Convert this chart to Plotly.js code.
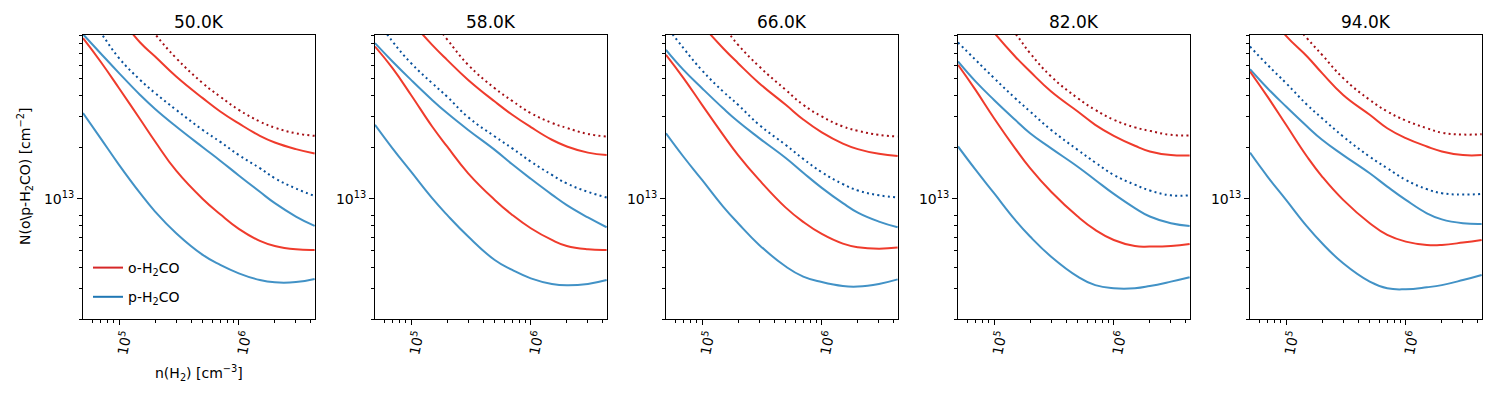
<!DOCTYPE html>
<html>
<head>
<meta charset="utf-8">
<script src="https://cdn.plot.ly/plotly-3.0.1.min.js"></script>
<style>html,body{margin:0;padding:0;background:#fff;} #chart{width:1500px;height:400px;}</style>
</head>
<body>
<div id="chart"></div>
<script>
// density grid n(H2) [cm^-3]
const nH2 = [5e4, 7e4, 1e5, 1.5e5, 2e5, 3e5, 5e5, 7e5, 1e6, 1.5e6, 2e6, 3e6, 4.3e6];
const temps = ['50.0K', '58.0K', '66.0K', '82.0K', '94.0K'];
const UNIT = 1e13; // column densities below are in units of 1e13 cm^-2

// o-H2CO, dotted (dark red)
const oDotted = [
  [33, 23, 16.5, 11.7, 9.1, 6.60, 4.72, 3.94, 3.30, 2.82, 2.60, 2.41, 2.33],
  [27, 20, 14.5, 11.0, 8.5, 6.03, 4.41, 3.72, 3.16, 2.77, 2.59, 2.39, 2.31],
  [25, 18.5, 13.5, 10.1, 7.89, 5.90, 4.31, 3.53, 3.02, 2.64, 2.49, 2.36, 2.31],
  [23, 17, 12.5, 9.2, 7.05, 5.16, 3.86, 3.30, 2.89, 2.61, 2.49, 2.36, 2.34],
  [22, 16.5, 12, 8.6, 6.90, 5.05, 3.77, 3.23, 2.86, 2.58, 2.43, 2.37, 2.38]
];
// o-H2CO, upper solid
const oUpper = [
  [21, 15.5, 11.5, 8.14, 6.75, 5.16, 3.86, 3.23, 2.75, 2.33, 2.13, 1.95, 1.84],
  [19.5, 14.5, 10.8, 7.89, 6.45, 4.93, 3.69, 3.09, 2.62, 2.21, 2.02, 1.86, 1.80],
  [19, 14, 10.3, 7.54, 6.17, 4.72, 3.53, 2.90, 2.44, 2.10, 1.95, 1.83, 1.78],
  [17.5, 12.8, 9.3, 6.75, 5.52, 4.22, 3.23, 2.70, 2.33, 2.04, 1.89, 1.80, 1.79],
  [16.5, 12.2, 8.9, 6.75, 5.40, 4.03, 3.09, 2.58, 2.26, 2.02, 1.89, 1.80, 1.80]
];
// o-H2CO, lower solid
const oLower = [
  [8.63, 6.31, 4.41, 2.91, 2.16, 1.46, 1.00, 0.815, 0.670, 0.570, 0.532, 0.509, 0.505],
  [7.71, 5.77, 4.03, 2.64, 2.02, 1.41, 0.987, 0.807, 0.675, 0.577, 0.532, 0.509, 0.505],
  [6.90, 5.05, 3.53, 2.36, 1.80, 1.29, 0.890, 0.735, 0.625, 0.549, 0.523, 0.513, 0.521],
  [6.03, 4.31, 2.95, 1.97, 1.51, 1.10, 0.789, 0.660, 0.577, 0.532, 0.528, 0.532, 0.547],
  [5.52, 3.94, 2.70, 1.76, 1.35, 0.987, 0.722, 0.617, 0.564, 0.540, 0.540, 0.557, 0.577]
];
// p-H2CO, dotted (dark blue)
const pDotted = [
  [12.5, 9.3, 6.60, 4.93, 4.13, 3.30, 2.52, 2.15, 1.80, 1.51, 1.32, 1.15, 1.04],
  [11.5, 8.25, 6.17, 4.72, 3.94, 2.99, 2.31, 1.97, 1.65, 1.38, 1.23, 1.10, 1.02],
  [10.2, 7.54, 5.6, 4.22, 3.53, 2.70, 2.06, 1.71, 1.43, 1.22, 1.12, 1.05, 1.02],
  [8.14, 6.45, 5.05, 3.86, 3.23, 2.52, 1.93, 1.63, 1.38, 1.21, 1.12, 1.05, 1.05],
  [7.71, 6.03, 4.72, 3.53, 2.95, 2.31, 1.76, 1.51, 1.29, 1.14, 1.08, 1.06, 1.07]
];
// p-H2CO, upper solid
const pUpper = [
  [9.1, 7.05, 5.40, 4.03, 3.34, 2.64, 2.00, 1.67, 1.37, 1.10, 0.945, 0.790, 0.696],
  [8.07, 6.31, 4.93, 3.77, 3.16, 2.52, 1.93, 1.59, 1.31, 1.06, 0.920, 0.780, 0.684],
  [7.38, 5.64, 4.41, 3.37, 2.82, 2.26, 1.73, 1.42, 1.16, 0.945, 0.832, 0.738, 0.684],
  [6.31, 4.83, 3.77, 2.89, 2.41, 1.97, 1.54, 1.29, 1.07, 0.885, 0.790, 0.722, 0.696],
  [5.69, 4.41, 3.45, 2.64, 2.21, 1.80, 1.41, 1.18, 0.987, 0.825, 0.760, 0.722, 0.715]
];
// p-H2CO, lower solid
const pLower = [
  [3.16, 2.26, 1.58, 1.08, 0.844, 0.631, 0.472, 0.413, 0.369, 0.337, 0.327, 0.328, 0.342],
  [2.70, 1.97, 1.44, 1.01, 0.807, 0.604, 0.441, 0.386, 0.345, 0.320, 0.314, 0.320, 0.337],
  [2.41, 1.76, 1.29, 0.902, 0.722, 0.540, 0.404, 0.353, 0.328, 0.311, 0.309, 0.320, 0.340],
  [2.02, 1.48, 1.08, 0.755, 0.604, 0.461, 0.353, 0.315, 0.302, 0.302, 0.311, 0.330, 0.350],
  [1.86, 1.35, 0.987, 0.690, 0.552, 0.422, 0.330, 0.302, 0.298, 0.306, 0.315, 0.337, 0.361]
];

const xTickVals = [1e5, 1e6];
const xTickText = ['10<sup>5</sup>', '10<sup>6</sup>'];
const xMinor = [6e4, 7e4, 8e4, 9e4, 2e5, 3e5, 4e5, 5e5, 6e5, 7e5, 8e5, 9e5, 2e6, 3e6, 4e6];
const yTickVals = [1e13];
const yTickText = ['10<sup>13</sup>'];
const yMinor = [2e12, 3e12, 4e12, 5e12, 6e12, 7e12, 8e12, 2e13, 3e13, 4e13, 5e13, 6e13, 7e13, 8e13, 9e13];

const RED = '#ef3b2c', BLUE = '#4292c6', DRED = '#a50f15', DBLUE = '#08519c';
const FONT = 'DejaVu Sans, sans-serif';

const W = 1500, H = 400;
const panelLefts = [83, 375, 666, 958, 1250];
const panelW = 232, plotTop = 35, plotBottom = 319;

const traces = [];
const layout = {
  width: W, height: H,
  margin: {l: 0, r: 0, t: 0, b: 0},
  paper_bgcolor: '#fff', plot_bgcolor: '#fff',
  font: {family: FONT, size: 14, color: '#000'},
  showlegend: true,
  legend: {x: 88 / W, y: 1 - 252 / H, xanchor: 'left', yanchor: 'top',
           bgcolor: 'rgba(0,0,0,0)', font: {size: 14, family: FONT},
           traceorder: 'grouped', tracegroupgap: 8},
  annotations: [],
};

const series = [
  [oDotted, DRED, '2px,3.3px'],
  [oUpper, RED, 'solid'],
  [pDotted, DBLUE, '2px,3.3px'],
  [pUpper, BLUE, 'solid'],
  [oLower, RED, 'solid'],
  [pLower, BLUE, 'solid'],
];

for (let i = 0; i < 5; i++) {
  const k = i === 0 ? '' : String(i + 1);
  const xa = 'x' + k, ya = 'y' + k;
  series.forEach(([arr, col, dash]) => {
    traces.push({
      x: nH2, y: arr[i].map(v => v * UNIT), xaxis: xa, yaxis: ya,
      mode: 'lines', showlegend: false, hoverinfo: 'skip',
      line: {color: col, width: 2, dash: dash, shape: 'spline', smoothing: 1.3}
    });
  });
  const L = panelLefts[i];
  layout['xaxis' + k] = {
    type: 'log', range: [Math.log10(5e4), Math.log10(4.33e6)],
    domain: [L / W, (L + panelW) / W], anchor: ya,
    showline: true, mirror: true, linecolor: '#000', linewidth: 1,
    ticks: 'outside', ticklen: 5, tickwidth: 1, tickcolor: '#000',
    tickmode: 'array', tickvals: xTickVals, ticktext: xTickText, tickangle: -78,
    ticklabelshift: 6, ticklabelstandoff: -4,
    tickfont: {size: 14, family: FONT},
    minor: {tickmode: 'array', tickvals: xMinor, ticks: 'outside', ticklen: 3, tickwidth: 1, tickcolor: '#000', showgrid: false},
    showgrid: false, zeroline: false
  };
  layout['yaxis' + k] = {
    type: 'log', range: [Math.log10(2e12), Math.log10(9e13)],
    domain: [1 - plotBottom / H, 1 - plotTop / H], anchor: xa,
    showline: true, mirror: true, linecolor: '#000', linewidth: 1,
    ticks: 'outside', ticklen: 5, tickwidth: 1, tickcolor: '#000',
    tickmode: 'array', tickvals: yTickVals, ticktext: yTickText,
    tickfont: {size: 14, family: FONT},
    minor: {tickmode: 'array', tickvals: yMinor, ticks: 'outside', ticklen: 3, tickwidth: 1, tickcolor: '#000', showgrid: false},
    showgrid: false, zeroline: false
  };
  layout.annotations.push({
    text: temps[i], xref: 'paper', yref: 'paper',
    x: (L + panelW / 2) / W, y: 1 - 22 / H, xanchor: 'center', yanchor: 'middle',
    showarrow: false, font: {size: 17, family: FONT, color: '#000'}
  });
}

// legend entries
traces.push({x: [null], y: [null], xaxis: 'x', yaxis: 'y', mode: 'lines', name: 'o-H<sub>2</sub>CO',
  legendgroup: 'o', showlegend: true, line: {color: '#d62728', width: 2}});
traces.push({x: [null], y: [null], xaxis: 'x', yaxis: 'y', mode: 'lines', name: 'p-H<sub>2</sub>CO',
  legendgroup: 'p', showlegend: true, line: {color: '#1f77b4', width: 2}});

// axis titles
layout.annotations.push({
  text: 'n(H<sub>2</sub>) [cm<sup>−3</sup>]', xref: 'paper', yref: 'paper',
  x: (panelLefts[0] + panelW / 2) / W, y: 1 - 373 / H, xanchor: 'center', yanchor: 'middle',
  showarrow: false, font: {size: 14, family: FONT, color: '#000'}
});
layout.annotations.push({
  text: 'N(o\\p-H<sub>2</sub>CO) [cm<sup>−2</sup>]', xref: 'paper', yref: 'paper',
  x: 25 / W, y: 1 - 177 / H, xanchor: 'center', yanchor: 'middle', textangle: -90,
  showarrow: false, font: {size: 14, family: FONT, color: '#000'}
});

Plotly.newPlot('chart', traces, layout, {staticPlot: true, displayModeBar: false});
</script>
</body>
</html>
